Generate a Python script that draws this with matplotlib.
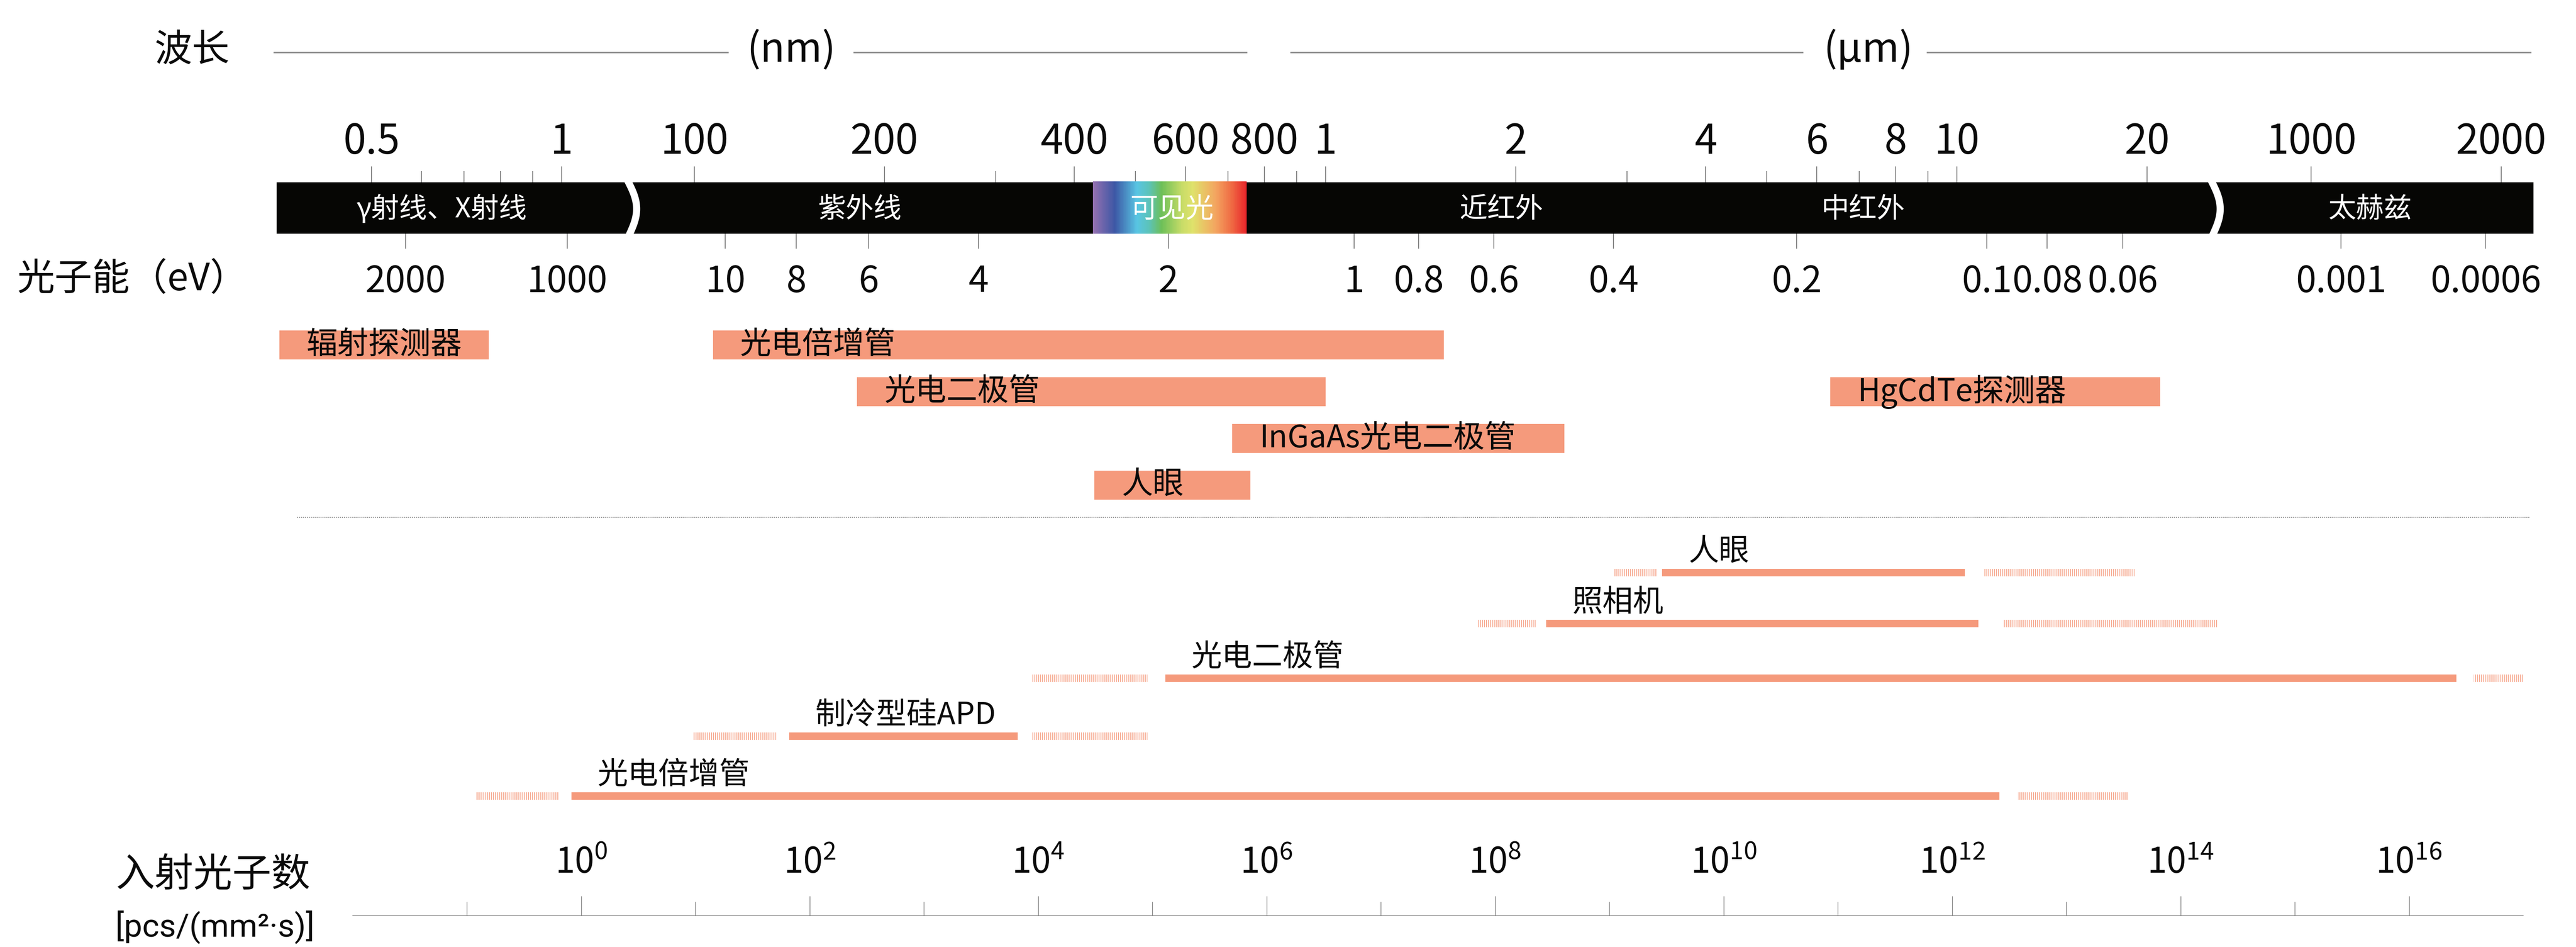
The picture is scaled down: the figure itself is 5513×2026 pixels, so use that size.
import numpy as np
import matplotlib
matplotlib.use("Agg")
import matplotlib.pyplot as plt
from matplotlib.colors import LinearSegmentedColormap

plt.rcParams['font.family'] = ['Noto Sans CJK SC', 'DejaVu Sans']
plt.rcParams['hatch.linewidth'] = 1.1

# ---------------- data ----------------
# wavelength axis (values in nm)
WL_MAJOR = [0.5, 1, 100, 200, 400, 600, 800, 1000, 2000, 4000, 6000, 8000,
            10000, 20000, 1e6, 2e6]
WL_MAJOR_LABELS = ["0.5", "1", "100", "200", "400", "600", "800", "1", "2",
                   "4", "6", "8", "10", "20", "1000", "2000"]
WL_MINOR = [0.6, 0.7, 0.8, 0.9, 300, 500, 700, 900, 3000, 5000, 7000, 9000]

# photon energy ticks (eV) and where the chart puts them on the wavelength band (nm)
EV_LABELS = ["2000", "1000", "10", "8", "6", "4", "2", "1", "0.8", "0.6",
             "0.4", "0.2", "0.1", "0.08", "0.06", "0.001", "0.0006"]
EV_AT_NM = [0.566, 1.02, 112, 145, 189, 282, 564, 1109, 1403, 1847, 2858,
            5573, 11150, 13900, 18300, 1.115e6, 1.89e6]

BANDS = ["γ射线、X射线", "紫外线", "可见光", "近红外", "中红外", "太赫兹"]
BAND_LABEL_AT = [0.646, 183, 571, 1900, 7100, 1.24e6]
BAND_RANGE = (0.3535, 2.25e6)
VISIBLE = (428, 750)
RAINBOW = ["#9370b0", "#3d57a5", "#58c5e3", "#5cc3b8", "#6dbf58", "#c8dc68",
           "#dfe26b", "#f3a560", "#ef6a43", "#e8262b"]
RAINBOW_POS = [0, 0.14, 0.285, 0.365, 0.446, 0.58, 0.65, 0.8, 0.905, 1.0]

# detector wavelength ranges (nm)
DETECTORS = ["辐射探测器", "光电倍增管", "光电二极管", "HgCdTe探测器",
             "InGaAs光电二极管", "人眼"]
DET_START = [0.357, 107, 181, 6300, 711, 430]
DET_END = [0.766, 1540, 1000, 21000, 2390, 760]
DET_ROW = [0, 0, 1, 1, 2, 3]

# incident photon number ranges [pcs/(mm2 s)]
SENSORS = ["人眼", "照相机", "光电二极管", "制冷型硅APD", "光电倍增管"]
SOLID_LO = [2.9e9, 2.8e8, 1.3e5, 6.6e1, 8.2e-1]
SOLID_HI = [1.3e12, 1.7e12, 2.6e16, 6.6e3, 2.6e12]
DIM_LEFT_LO = [1.1e9, 7.1e7, 8.9e3, 9.5e0, 1.2e-1]
DIM_LEFT_HI = [2.6e9, 2.3e8, 9.1e4, 5.1e1, 6.3e-1]
DIM_RIGHT_LO = [1.9e12, 2.8e12, 3.7e16, 8.9e3, 3.8e12]
DIM_RIGHT_HI = [4.0e13, 2.1e14, 1.0e17, 9.1e4, 3.5e13]
PHOTON_LABEL_EXP = list(range(0, 17, 2))

# ---------------- layout ----------------
W, H = 5513, 2026
ORANGE = "#f59a7c"
INK = "#0a0a0a"
GREY = "#6e6e6e"
D = 1351.0            # pixels per decade on the wavelength band
BRK1, BRK2 = 1349.0, 4738.0


def wl_fwd(lam):
    lam = np.clip(np.asarray(lam, dtype=float), 1e-9, None)
    lg = np.log10(lam)
    pa = 1202 + D * lg
    pb = 1486 + D * (lg - 2)
    pc = 4946 + D * (lg - 6)
    return np.where(pa <= BRK1, pa,
           np.where(pb <= BRK1, BRK1,
           np.where(pb <= BRK2, pb,
           np.where(pc <= BRK2, BRK2, pc))))


def wl_inv(p):
    p = np.asarray(p, dtype=float)
    lg = np.where(p <= BRK1, (p - 1202) / D,
         np.where(p <= BRK2, 2 + (p - 1486) / D, 6 + (p - 4946) / D))
    return 10 ** lg


def fx(x):
    return x / W


def fy(y):
    return 1 - y / H


fig = plt.figure(figsize=(W / 100, H / 100), dpi=100)

# ---- wavelength part ----
ax = fig.add_axes([0, 0, 1, 1])
ax.set_xscale('function', functions=(wl_fwd, wl_inv))
ax.set_xlim(wl_inv(0), wl_inv(W))
ax.set_ylim(H, 0)
ax.axis('off')

# header line with units
for a, b in [(585, 1559), (1826, 2669), (2761, 3859), (4123, 5417)]:
    ax.hlines(112, wl_inv(a), wl_inv(b), color="#8f8f8f", lw=2.2)
ax.text(wl_inv(1693), 108, "(nm)", ha='center', va='center', fontsize=62, color=INK)
ax.text(wl_inv(3998), 108, "(μm)", ha='center', va='center', fontsize=62, color=INK)
fig.text(fx(411), fy(108), "波长", ha='center', va='center', fontsize=58, color=INK)

# black band, visible gradient and breaks
BAND_TOP, BAND_BOT = 390, 500
ax.barh((BAND_TOP + BAND_BOT) / 2, BAND_RANGE[1] - BAND_RANGE[0], left=BAND_RANGE[0],
        height=BAND_BOT - BAND_TOP, color="#060604", zorder=2)
cmap = LinearSegmentedColormap.from_list("vis", list(zip(RAINBOW_POS, RAINBOW)))
xe = np.geomspace(VISIBLE[0], VISIBLE[1], 301)
ax.pcolormesh(xe, [BAND_TOP - 2, BAND_BOT], np.linspace(0, 1, 300)[None, :],
              cmap=cmap, shading='flat', antialiased=False, zorder=3)
t = np.linspace(0, 1, 80)
for brk in (BRK1, BRK2):
    dx = -7 + 3 * t + 19 * np.sin(np.pi * t)
    ax.plot(wl_inv(brk + dx), BAND_TOP - 6 + t * (BAND_BOT - BAND_TOP + 12),
            color="white", lw=11, solid_capstyle='butt', zorder=4)

for name, at in zip(BANDS, BAND_LABEL_AT):
    ax.text(at, 448, name, ha='center', va='center', fontsize=43, color="white", zorder=5)

# wavelength ticks
ax.vlines(WL_MAJOR, 356, BAND_TOP, color=GREY, lw=1.2)
ax.vlines(WL_MINOR, 366, BAND_TOP, color=GREY, lw=1.2)
for v, lab in zip(WL_MAJOR, WL_MAJOR_LABELS):
    ax.text(v, 304, lab, ha='center', va='center', fontsize=63, color=INK)

# energy ticks
ax.vlines(EV_AT_NM, BAND_BOT, 532, color=GREY, lw=1.2)
for v, lab in zip(EV_AT_NM, EV_LABELS):
    ax.text(v, 603, lab, ha='center', va='center', fontsize=56, color=INK)
fig.text(fx(36), fy(598), "光子能（eV）", ha='left', va='center', fontsize=58, color=INK)

# detector spectral ranges
for name, lo, hi, row in zip(DETECTORS, DET_START, DET_END, DET_ROW):
    yc = 738 + 100 * row
    ax.barh(yc, hi - lo, left=lo, height=62, color=ORANGE, zorder=2)
    ax.annotate(name, xy=(lo, yc), xytext=(42, 0), textcoords='offset points',
                ha='left', va='center', fontsize=48, color=INK, zorder=3)

# dotted separator
ax.hlines(1107, wl_inv(636), wl_inv(5414), color="#9a9a9a", lw=1.5, linestyles=(0, (1, 1)))

# ---- photon number part ----
LOW_ROW_Y = [1225, 1334, 1451, 1575, 1703]
axp = fig.add_axes([fx(755), 0, fx(5400) - fx(755), 1])
axp.set_xscale('log')
axp.set_xlim(1e-2, 1e17)
axp.set_ylim(H, 0)
axp.patch.set_visible(False)
for s in ('top', 'left', 'right'):
    axp.spines[s].set_visible(False)
axp.spines['bottom'].set_position(('data', 1959))
axp.spines['bottom'].set_color("#7a7a7a")
axp.spines['bottom'].set_linewidth(1.1)
axp.yaxis.set_visible(False)
axp.set_xticks([10.0 ** k for k in range(0, 17, 2)])
axp.set_xticks([10.0 ** k for k in range(-1, 17, 2)], minor=True)
axp.tick_params(axis='x', which='major', direction='in', length=30, width=0.9,
                color=GREY, labelbottom=False)
axp.tick_params(axis='x', which='minor', direction='in', length=21.5, width=0.9,
                color=GREY, labelbottom=False)

for k in PHOTON_LABEL_EXP:
    axp.text(10.0 ** k, 1846, r"$\mathdefault{10^{%d}}$" % k, ha='center', va='center',
             fontsize=54, color=INK)

for i, name in enumerate(SENSORS):
    yc = LOW_ROW_Y[i]
    axp.barh(yc, SOLID_HI[i] - SOLID_LO[i], left=SOLID_LO[i], height=16,
             color=ORANGE, lw=0)
    for lo, hi in ((DIM_LEFT_LO[i], DIM_LEFT_HI[i]), (DIM_RIGHT_LO[i], DIM_RIGHT_HI[i])):
        axp.barh(yc, hi - lo, left=lo, height=16, facecolor="none",
                 edgecolor=ORANGE, hatch='||||', lw=0)
    axp.annotate(name, xy=(SOLID_LO[i], yc), xytext=(40, 32), textcoords='offset points',
                 ha='left', va='center', fontsize=47, color=INK)

fig.text(fx(456), fy(1872), "入射光子数", ha='center', va='center', fontsize=60, color=INK)
fig.text(fx(460), fy(1983), "[pcs/(mm²·s)]", ha='center', va='center', fontsize=50,
         color=INK, family=['Roboto', 'DejaVu Sans'])

fig.savefig("out.png", dpi=100)
